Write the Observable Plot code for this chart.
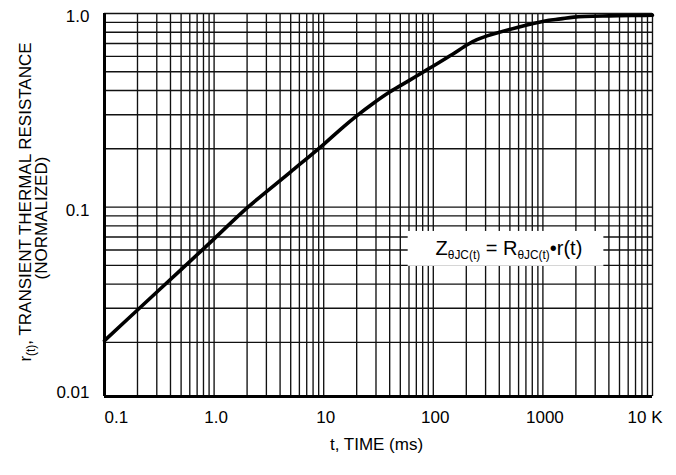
<!DOCTYPE html>
<html>
<head>
<meta charset="utf-8">
<script src="https://cdn.jsdelivr.net/npm/d3@7"></script>
<script src="https://cdn.jsdelivr.net/npm/@observablehq/plot@0.6"></script>
<style>
  html, body { margin: 0; padding: 0; background: #fff; }
  #chart svg { display: block; }
</style>
</head>
<body>
<div id="chart"></div>
<script>
// ---- data ----
const timeMs = [0.1, 0.2, 0.5, 1.0, 2.0, 5.0, 10, 14, 20, 28, 40, 60, 88, 150, 204, 250, 310, 583, 1020, 1451, 1919, 4000, 7800, 10000];
const rNorm  = [0.0204, 0.0294, 0.0475, 0.0685, 0.099, 0.152, 0.211, 0.250, 0.296, 0.342, 0.393, 0.450, 0.513, 0.616, 0.690, 0.732, 0.766, 0.847, 0.913, 0.938, 0.958, 0.972, 0.977, 0.979];

const xTickValues = [0.1, 1, 10, 100, 1000, 10000];
const xTickLabels = ["0.1", "1.0", "10", "100", "1000", "10 K"];
const yTickValues = [0.01, 0.1, 1];
const yTickLabels = ["0.01", "0.1", "1.0"];

const xTitle = "t, TIME (ms)";
const yTitle1 = "r_{(t)}, TRANSIENT THERMAL RESISTANCE";
const yTitle2 = "(NORMALIZED)";
const formula = "Z_{θJC(t)} = R_{θJC(t)}•r(t)";

// ---- build ----
const curve = timeMs.map((t, i) => ({t, r: rNorm[i]}));
const xTicks = xTickValues.map((v, i) => ({v, label: xTickLabels[i]}));
const yTicks = yTickValues.map((v, i) => ({v, label: yTickLabels[i]}));

const xDomain = [0.1, 10000];
const yDomain = [0.0105, 1];
const xGrid = d3.scaleLog().domain(xDomain).ticks();
const yGrid = d3.scaleLog().domain([0.01, 1]).ticks().filter(v => v >= yDomain[0]);

// annotation box (data coordinates)
const noteBox = {x1: 59, x2: 3600, y1: 0.0494, y2: 0.0748};
const noteAt = {x: 490, y: 0.0608};

const FONT = "'Liberation Sans', Arial, Helvetica, sans-serif";
const gridStyle = {stroke: "#111", strokeWidth: 1.35, strokeOpacity: 1};

const svg = Plot.plot({
  width: 676,
  height: 475,
  marginLeft: 104,
  marginRight: 24,
  marginTop: 13,
  marginBottom: 79,
  style: {fontFamily: FONT, fontSize: "17px", background: "white", color: "black"},
  x: {type: "log", domain: xDomain, axis: null},
  y: {type: "log", domain: yDomain, axis: null, clamp: true},
  marks: [
    Plot.ruleX(xGrid, gridStyle),
    Plot.ruleY(yGrid, gridStyle),
    Plot.rect([noteBox], {x1: "x1", x2: "x2", y1: "y1", y2: "y2", fill: "white"}),
    Plot.ruleX([xDomain[0]], {stroke: "black", strokeWidth: 3}),
    Plot.ruleY([yDomain[0]], {stroke: "black", strokeWidth: 3}),
    Plot.line(curve, {x: "t", y: "r", stroke: "black", strokeWidth: 3.6, curve: "catmull-rom"}),
    // x tick labels
    Plot.text(xTicks.slice(0, 1), {x: "v", text: "label", frameAnchor: "bottom", lineAnchor: "top", textAnchor: "start", dy: 14, fontSize: 17}),
    Plot.text(xTicks.slice(1, -1), {x: "v", text: "label", frameAnchor: "bottom", lineAnchor: "top", textAnchor: "middle", dx: 2, dy: 14, fontSize: 17}),
    Plot.text(xTicks.slice(-1), {x: "v", text: "label", frameAnchor: "bottom", lineAnchor: "top", textAnchor: "end", dx: 10, dy: 14, fontSize: 17}),
    // y tick labels
    Plot.text(yTicks.slice(0, 1), {y: "v", text: "label", frameAnchor: "left", textAnchor: "end", dx: -15, dy: -4, fontSize: 17}),
    Plot.text(yTicks.slice(1), {y: "v", text: "label", frameAnchor: "left", textAnchor: "end", dx: -15, dy: 3, fontSize: 17}),
    // axis titles
    Plot.text([xTitle], {frameAnchor: "bottom", lineAnchor: "top", textAnchor: "middle", dx: -2, dy: 41, fontSize: 17}),
    Plot.text([yTitle1], {frameAnchor: "left", textAnchor: "middle", lineAnchor: "middle", rotate: -90, dx: -79, dy: -3, fontSize: 17}),
    Plot.text([yTitle2], {frameAnchor: "left", textAnchor: "middle", lineAnchor: "middle", rotate: -90, dx: -63, dy: 13, fontSize: 17}),
    // formula
    Plot.text([formula], {x: () => noteAt.x, y: () => noteAt.y, textAnchor: "middle", fontSize: 20})
  ]
});

// turn "_{...}" into subscript tspans
d3.select(svg).selectAll("text").each(function () {
  const s = this.textContent;
  if (!s.includes("_{")) return;
  const fs = parseFloat(getComputedStyle(this).fontSize) || 17;
  const sub = Math.round(fs * 0.7 * 10) / 10;
  const shift = Math.round(fs * 0.22 * 10) / 10;
  const parts = s.split(/(_\{[^}]*\})/).filter(p => p.length);
  this.textContent = "";
  let lowered = false;
  for (const p of parts) {
    const ts = document.createElementNS("http://www.w3.org/2000/svg", "tspan");
    if (p.startsWith("_{")) {
      ts.textContent = p.slice(2, -1);
      ts.setAttribute("font-size", sub);
      ts.setAttribute("dy", shift);
      lowered = true;
    } else {
      ts.textContent = p;
      if (lowered) { ts.setAttribute("dy", -shift); lowered = false; }
    }
    this.appendChild(ts);
  }
});

document.getElementById("chart").appendChild(svg);
</script>
</body>
</html>
